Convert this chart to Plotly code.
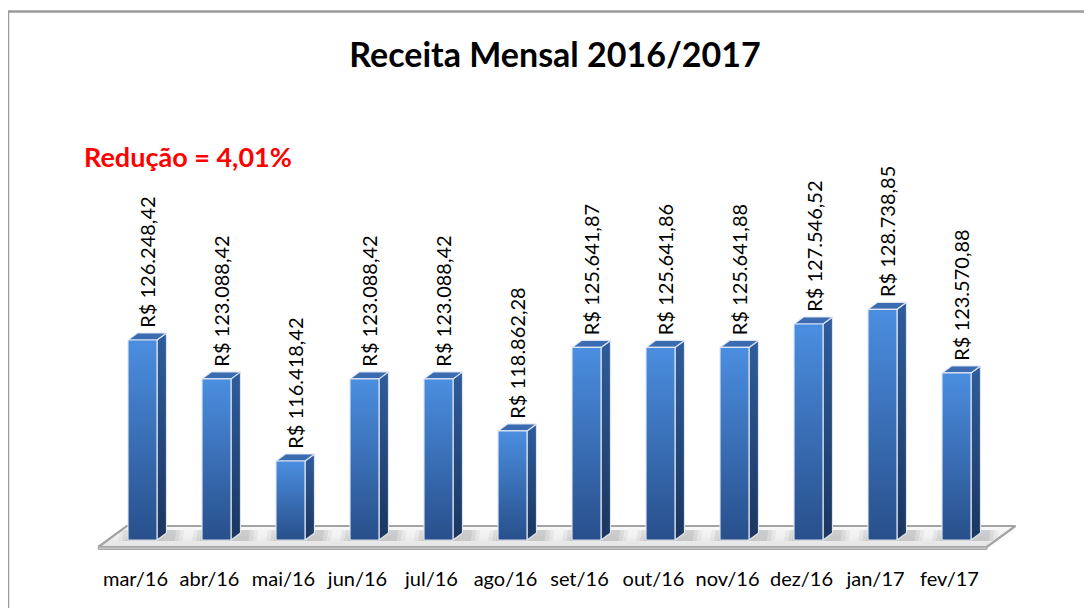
import plotly.graph_objects as go

# ---------------- data ----------------
months = ["mar/16", "abr/16", "mai/16", "jun/16", "jul/16", "ago/16",
          "set/16", "out/16", "nov/16", "dez/16", "jan/17", "fev/17"]
receita = [126248.42, 123088.42, 116418.42, 123088.42, 123088.42, 118862.28,
           125641.87, 125641.86, 125641.88, 127546.52, 128738.85, 123570.88]
titulo = "Receita Mensal 2016/2017"
nota = "Redução = 4,01%"
axis_min = 110000

# ---------------- layout constants (pixels) ----------------
W, H = 1092, 608
OFF = 8                      # page body margin offset of the rendered figure
MB = 55                      # bottom margin
PH = H - MB                  # plot height
PX_CAT = 74.0                # pixels per category
X_FIRST = 142.5 - OFF        # pixel centre of first bar (figure coords)
BASE_PY = 540.0 - OFF        # pixel row of axis minimum (figure coords)
K = 0.01231                  # pixels per R$

x0 = -X_FIRST / PX_CAT
x1 = x0 + W / PX_CAT
y0 = axis_min - (PH - BASE_PY) / K
y1 = y0 + PH / K


def dxu(px):
    return px / PX_CAT


def dyu(px):
    return px / K


def px2paper_x(px):
    return (px - OFF) / W


def py2paper_y(py):
    return (PH - (py - OFF)) / PH


def brl(v):
    s = f"{v:,.2f}"
    return "R$ " + s.replace(",", "X").replace(".", ",").replace("X", ".")


HW = dxu(14.5)   # half width of the front face
DX = dxu(9.5)    # depth offset right
DY = dyu(7.0)    # depth offset up

edge = dict(color="rgba(225,232,242,0.95)", width=1.2)

fig = go.Figure()

# ---------------- floor ----------------
fl_l, fl_r = -0.47, 11.54
fxf = [fl_l - DX, fl_r - DX, fl_r + 2 * DX, fl_l + 2 * DX, fl_l - DX]
fyf = [axis_min - DY, axis_min - DY, axis_min + 2 * DY, axis_min + 2 * DY, axis_min - DY]
fig.add_trace(go.Scatter(
    x=fxf, y=fyf, mode="lines", fill="toself",
    fillgradient=dict(type="vertical",
                      colorscale=[[0, "#e2e2e2"], [0.5, "#f0f0f0"], [1, "#f9f9f9"]]),
    line=dict(color="#a3a3a3", width=2.2), hoverinfo="skip", showlegend=False))
# floor front slab
fig.add_trace(go.Scatter(
    x=[fl_l - DX, fl_r - DX, fl_r - DX, fl_l - DX, fl_l - DX],
    y=[axis_min - DY, axis_min - DY, axis_min - DY - dyu(2.5), axis_min - DY - dyu(2.5), axis_min - DY],
    mode="lines", fill="toself", fillcolor="#c4c4c4",
    line=dict(color="#a8a8a8", width=1), hoverinfo="skip", showlegend=False))

# soft shadows behind bars
for i, v in enumerate(receita):
    for grow, alpha in [(10, 0.10), (6, 0.14), (2, 0.18)]:
        sx = [i - HW - dxu(grow), i + HW + DX + dxu(grow + 6), i + HW + DX + dxu(grow + 8),
              i - HW - dxu(grow - 2), i - HW - dxu(grow)]
        sy = [axis_min - dyu(1), axis_min - dyu(1), axis_min + DY + dyu(3), axis_min + DY + dyu(3),
              axis_min - dyu(1)]
        fig.add_trace(go.Scatter(
            x=sx, y=sy, mode="lines", fill="toself", fillcolor=f"rgba(140,140,140,{alpha})",
            line=dict(width=0), hoverinfo="skip", showlegend=False))

# ---------------- 3D bars ----------------
for i, v in enumerate(receita):
    # side face
    fig.add_trace(go.Scatter(
        x=[i + HW, i + HW + DX, i + HW + DX, i + HW, i + HW],
        y=[axis_min, axis_min + DY, v + DY, v, axis_min],
        mode="lines", fill="toself",
        fillgradient=dict(type="vertical", colorscale=[[0, "#1b365f"], [1, "#2f5d9c"]]),
        line=edge, hoverinfo="skip", showlegend=False))
    # top face
    fig.add_trace(go.Scatter(
        x=[i - HW, i + HW, i + HW + DX, i - HW + DX, i - HW],
        y=[v, v, v + DY, v + DY, v],
        mode="lines", fill="toself", fillcolor="#3b6cb2",
        line=edge, hoverinfo="skip", showlegend=False))
    # front face
    fig.add_trace(go.Scatter(
        x=[i - HW, i + HW, i + HW, i - HW, i - HW],
        y=[axis_min, axis_min, v, v, axis_min],
        mode="lines", fill="toself",
        fillgradient=dict(type="vertical", colorscale=[[0, "#284f8b"], [1, "#4b8ee0"]]),
        line=edge, name=months[i], text=[brl(v)] * 5,
        hovertemplate=months[i] + ": %{text}<extra></extra>", showlegend=False))

# ---------------- value labels ----------------
for i, v in enumerate(receita):
    fig.add_annotation(
        x=i + DX / 2, y=v + DY, xref="x", yref="y",
        text=brl(v), textangle=-90, showarrow=False,
        xanchor="center", yanchor="bottom", yshift=3,
        font=dict(family="Lato", size=20, color="#000000"))

# ---------------- note ----------------
fig.add_annotation(
    x=px2paper_x(82), y=py2paper_y(157), xref="paper", yref="paper",
    text=f"<b>{nota}</b>", showarrow=False, xanchor="left", yanchor="middle",
    font=dict(family="Lato", size=27, color="#ff0000"))

# ---------------- frame ----------------
fig.add_shape(type="line", xref="paper", yref="paper",
              x0=px2paper_x(8), x1=px2paper_x(W + 10), y0=py2paper_y(11.5), y1=py2paper_y(11.5),
              line=dict(color="#9a9a9a", width=2.5))
fig.add_shape(type="line", xref="paper", yref="paper",
              x0=px2paper_x(8), x1=px2paper_x(8), y0=py2paper_y(11), y1=py2paper_y(H + 10),
              line=dict(color="#9a9a9a", width=2.5))

fig.update_layout(
    width=W, height=H,
    margin=dict(l=0, r=0, t=0, b=MB),
    paper_bgcolor="white", plot_bgcolor="white",
    title=dict(text=f"<b>{titulo}</b>", x=(555 - OFF) / W, xanchor="center",
               y=1 - (55 - OFF) / H, yanchor="middle", xref="container", yref="container",
               font=dict(family="Lato", size=34, color="#000000")),
    xaxis=dict(range=[x0, x1], tickmode="array",
               tickvals=[i - dxu(7) for i in range(len(months))], ticktext=months,
               showgrid=False, zeroline=False, showline=False, ticks="",
               ticklabelstandoff=4,
               tickfont=dict(family="Lato", size=20, color="#000000"), fixedrange=True),
    yaxis=dict(range=[y0, y1], visible=False, showgrid=False, zeroline=False, fixedrange=True),
    showlegend=False,
)

fig.write_html("out.html")
